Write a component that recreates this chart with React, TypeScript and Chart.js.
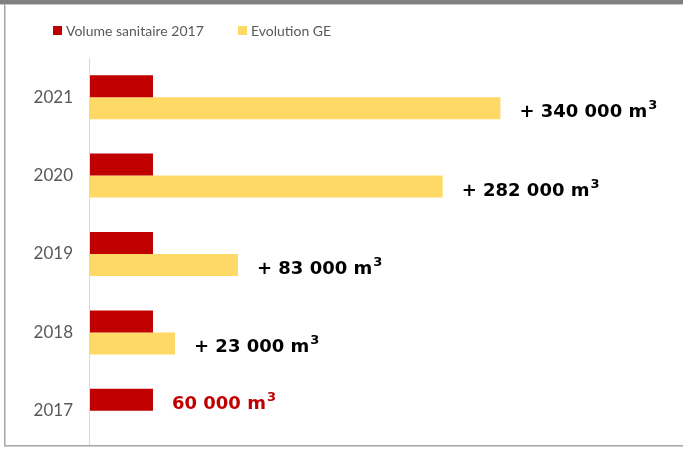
import React, { useEffect, useRef } from 'react';
import { Chart, registerables } from 'chart.js';

Chart.register(...registerables);

// ---- data ----
const categories = ['2021', '2020', '2019', '2018', '2017'];
const volumeSanitaire2017 = [60000, 60000, 60000, 60000, 60000];
const evolutionGE: (number | null)[] = [391000, 336000, 141000, 81000, null];
const labelValues = [340000, 282000, 83000, 23000, 60000];
const labelIsIncrease = [true, true, true, true, false];
const seriesNames = ['Volume sanitaire 2017', 'Evolution GE'];
const unitText = 'm';
const unitSup = '3';

const RED = '#C00000';
const YELLOW = '#FFD966';
const GREY_TEXT = '#595959';

const fmt = (n: number) => String(n).replace(/\B(?=(\d{3})+(?!\d))/g, ' ');

const decorPlugin = {
  id: 'decor',
  beforeDraw(chart: any) {
    const ctx = chart.ctx;
    ctx.save();
    ctx.fillStyle = '#ffffff';
    ctx.fillRect(0, 0, chart.width, chart.height);
    ctx.restore();
  },
  afterDraw(chart: any) {
    const ctx = chart.ctx;
    const area = chart.chartArea;
    ctx.save();

    // axis line
    ctx.fillStyle = '#d9d9d9';
    ctx.fillRect(Math.round(area.left) - 1, area.top, 1, 446 - area.top);

    // frame
    ctx.fillStyle = '#808080';
    ctx.fillRect(0, 0, chart.width, 4);
    ctx.fillStyle = '#c8c8c8';
    ctx.fillRect(0, 4, chart.width, 1);
    ctx.fillStyle = '#a6a6a6';
    ctx.fillRect(4, 4, 1, 443);
    ctx.fillRect(4, 445, chart.width - 4, 1);
    ctx.fillStyle = '#d0d0d0';
    ctx.fillRect(5, 4, 1, 441);
    ctx.fillRect(4, 446, chart.width - 4, 1);

    // legend
    const legendItems = [
      { x: 53, color: RED, text: seriesNames[0] },
      { x: 238, color: YELLOW, text: seriesNames[1] },
    ];
    ctx.font = '14px Lato';
    ctx.textBaseline = 'middle';
    ctx.textAlign = 'left';
    legendItems.forEach((it) => {
      ctx.fillStyle = it.color;
      ctx.fillRect(it.x, 26, 9, 9);
      ctx.fillStyle = GREY_TEXT;
      ctx.fillText(it.text, it.x + 13, 31);
    });

    // value labels
    const m0 = chart.getDatasetMeta(0);
    const m1 = chart.getDatasetMeta(1);
    categories.forEach((_, i) => {
      const el = evolutionGE[i] != null ? m1.data[i] : m0.data[i];
      if (!el) return;
      const x = el.x + 19;
      const y = el.y;
      const color = labelIsIncrease[i] ? '#000000' : RED;
      const main = (labelIsIncrease[i] ? '+ ' : '') + fmt(labelValues[i]) + ' ' + unitText;
      ctx.textBaseline = 'alphabetic';
      ctx.fillStyle = color;
      ctx.font = 'bold 18px "DejaVu Sans"';
      ctx.fillText(main, x, y + 9);
      const w = ctx.measureText(main).width;
      ctx.font = 'bold 13px "DejaVu Sans"';
      ctx.fillText(unitSup, x + w + 1, y + 1);
    });
    ctx.restore();
  },
};

export default function App() {
  const ref = useRef<HTMLCanvasElement | null>(null);
  useEffect(() => {
    if (!ref.current) return;
    const chart = new Chart(ref.current, {
      type: 'bar',
      data: {
        labels: categories,
        datasets: [
          {
            label: seriesNames[0],
            data: volumeSanitaire2017,
            backgroundColor: RED,
            borderWidth: 0,
          },
          {
            label: seriesNames[1],
            data: evolutionGE,
            backgroundColor: YELLOW,
            borderWidth: 0,
          },
        ],
      },
      options: {
        indexAxis: 'y',
        animation: false,
        responsive: true,
        maintainAspectRatio: false,
        layout: { padding: { top: 58, right: 43, bottom: 0, left: 0 } },
        datasets: {
          bar: { categoryPercentage: 0.561, barPercentage: 1 },
        } as any,
        plugins: {
          legend: { display: false },
          tooltip: { enabled: false },
          title: { display: false },
        },
        scales: {
          x: {
            display: false,
            min: 0,
            max: 524000,
          },
          y: {
            type: 'category',
            grid: { display: false, drawTicks: false },
            border: { display: false },
            ticks: {
              color: GREY_TEXT,
              font: { family: 'Lato', size: 17 },
              padding: 17,
            },
            afterFit: (s: any) => {
              s.width = 90;
              s.paddingTop = 0;
              s.paddingBottom = 0;
            },
          },
        },
      },
      plugins: [decorPlugin],
    });
    return () => chart.destroy();
  }, []);
  return (
    <div style={{ position: 'absolute', left: 0, top: 0, width: 683, height: 450, background: '#fff' }}>
      <canvas ref={ref} />
    </div>
  );
}
